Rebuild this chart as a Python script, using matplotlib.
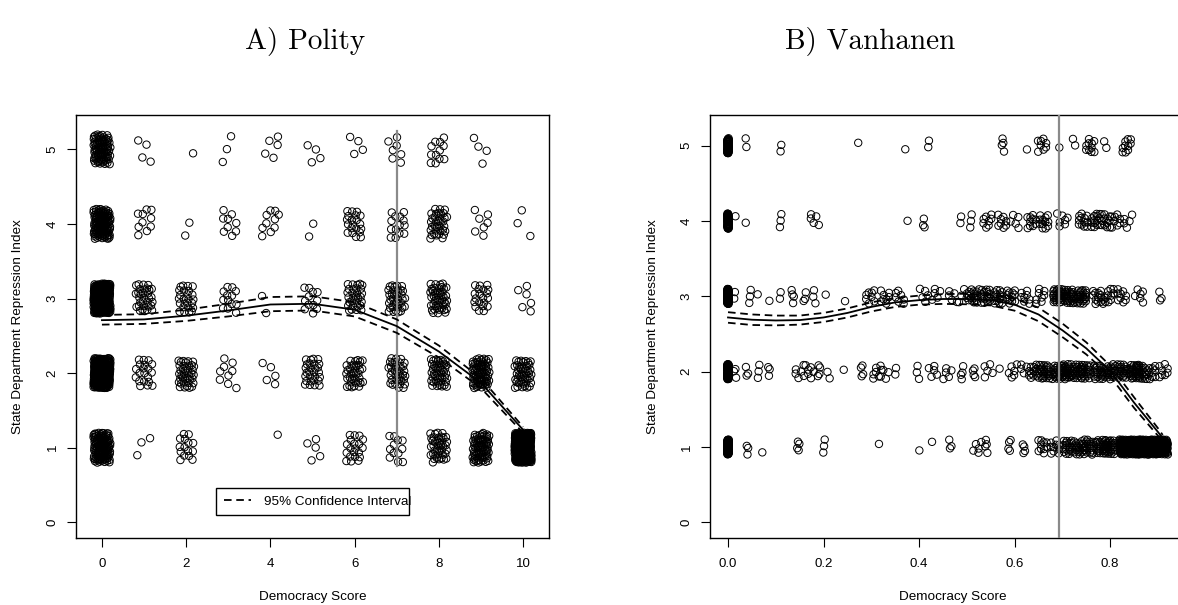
import numpy as np
import matplotlib
matplotlib.use("Agg")
import matplotlib.pyplot as plt
from matplotlib.lines import Line2D

# ---------------- Data ----------------
# Panel A (Polity): number of observations in each (democracy score, repression level) cell
polity_scores = [0, 1, 2, 3, 4, 5, 6, 7, 8, 9, 10]
repression_levels = [5, 4, 3, 2, 1]
polity_n_5 = [80, 4, 1, 3, 5, 4, 4, 7, 12, 4, 0]
polity_n_4 = [110, 10, 2, 9, 10, 2, 20, 14, 35, 7, 3]
polity_n_3 = [250, 32, 25, 13, 2, 12, 30, 35, 45, 20, 6]
polity_n_2 = [250, 20, 38, 9, 5, 28, 35, 35, 45, 70, 45]
polity_n_1 = [110, 3, 15, 0, 1, 5, 20, 12, 40, 70, 300]

# Panel A fitted curve and 95% CI
polity_fit = [2.71, 2.72, 2.77, 2.84, 2.92, 2.93, 2.85, 2.63, 2.29, 1.87, 1.24]
polity_upper = [2.78, 2.79, 2.85, 2.93, 3.02, 3.03, 2.95, 2.72, 2.37, 1.93, 1.28]
polity_lower = [2.65, 2.66, 2.70, 2.76, 2.83, 2.84, 2.76, 2.54, 2.21, 1.80, 1.20]
polity_cut = 7

# Panel B (Vanhanen): clusters of observations (score value, count) per repression level
van_x_5 = [0.0, 0.039, 0.109, 0.273, 0.373, 0.418, 0.575, 0.626, 0.655, 0.695, 0.725, 0.76, 0.79, 0.835]
van_n_5 = [60, 2, 2, 1, 1, 2, 4, 1, 8, 1, 2, 10, 2, 10]
van_x_4 = [0.0, 0.016, 0.039, 0.109, 0.18, 0.373, 0.41, 0.485, 0.51, 0.545, 0.575, 0.60, 0.635, 0.66,
           0.70, 0.745, 0.77, 0.79, 0.81, 0.835]
van_n_4 = [60, 1, 1, 3, 5, 1, 3, 2, 3, 8, 8, 5, 10, 12, 7, 12, 14, 12, 8, 5]
van_x_3 = [0.0, 0.015, 0.045, 0.064, 0.084, 0.109, 0.135, 0.16, 0.18, 0.203, 0.245, 0.30, 0.33, 0.36,
           0.41, 0.435, 0.47, 0.49, 0.515, 0.54, 0.565, 0.59, 0.625, 0.655, 0.69, 0.715, 0.74, 0.775,
           0.80, 0.825, 0.86, 0.905]
van_n_3 = [80, 2, 3, 1, 1, 2, 4, 3, 3, 1, 1, 8, 8, 7, 5, 5, 5, 5, 16, 16, 16, 12, 8, 8, 28, 26, 24,
           14, 10, 9, 6, 3]
van_x_2 = [0.0, 0.015, 0.04, 0.065, 0.085, 0.15, 0.17, 0.19, 0.21, 0.241, 0.28, 0.31, 0.33, 0.35,
           0.398, 0.43, 0.46, 0.49, 0.515, 0.545, 0.566, 0.595, 0.62, 0.645, 0.665, 0.69, 0.71, 0.73,
           0.75, 0.775, 0.80, 0.825, 0.85, 0.865, 0.885, 0.91]
van_n_2 = [80, 3, 3, 3, 3, 6, 6, 4, 2, 1, 4, 6, 5, 2, 3, 5, 5, 4, 4, 5, 1, 6, 6, 14, 22, 26, 26, 22,
           20, 20, 20, 20, 26, 18, 12, 8]
van_x_1 = [0.0, 0.04, 0.074, 0.147, 0.20, 0.318, 0.398, 0.426, 0.465, 0.52, 0.54, 0.59, 0.62, 0.66,
           0.685, 0.71, 0.735, 0.755, 0.78, 0.80, 0.83, 0.85, 0.87, 0.89, 0.91]
van_n_1 = [80, 3, 1, 4, 3, 1, 1, 1, 3, 5, 4, 4, 4, 10, 10, 18, 20, 20, 24, 28, 80, 90, 90, 90, 70]

# Panel B fitted curve and 95% CI
van_curve_x = [0.00, 0.05, 0.10, 0.15, 0.20, 0.25, 0.30, 0.35, 0.40, 0.45, 0.50, 0.55, 0.60, 0.65,
               0.70, 0.75, 0.80, 0.85, 0.90, 0.91]
van_fit = [2.72, 2.69, 2.68, 2.685, 2.72, 2.78, 2.86, 2.92, 2.95, 2.965, 2.965, 2.95, 2.89, 2.76,
           2.55, 2.31, 2.01, 1.59, 1.20, 1.12]
van_upper = [2.79, 2.76, 2.745, 2.745, 2.78, 2.84, 2.92, 2.98, 3.01, 3.03, 3.035, 3.02, 2.97, 2.85,
             2.64, 2.39, 2.08, 1.66, 1.25, 1.16]
van_lower = [2.65, 2.62, 2.615, 2.625, 2.66, 2.72, 2.80, 2.86, 2.89, 2.90, 2.895, 2.88, 2.81, 2.67,
             2.46, 2.23, 1.94, 1.52, 1.15, 1.08]
van_cut = 0.693

# ---------------- Style ----------------
plt.rcParams['font.family'] = ['Liberation Sans', 'DejaVu Sans']
W, H = 1178, 605
fig = plt.figure(figsize=(W / 100, H / 100), dpi=100)


def frac_seq(n, start):
    k = np.arange(start, start + n)
    u = (0.5 + 0.7548776662 * k) % 1.0
    v = (0.5 + 0.5698402910 * k) % 1.0
    return 2 * u - 1, 2 * v - 1


marker_kw = dict(s=28, facecolors='none', edgecolors='black', linewidths=0.7, zorder=2)
line_kw = dict(color='black', lw=1.3, zorder=4)
dash_kw = dict(color='black', lw=1.3, zorder=4, dashes=(4.2, 2.6))


def style_axes(ax, xlabel_y, ylabel_x):
    for s in ax.spines.values():
        s.set_linewidth(1.0)
    ax.tick_params(direction='out', length=6.5, width=0.8, labelsize=9.5)
    ax.tick_params(axis='x', pad=8)
    ax.tick_params(axis='y', pad=6)
    ax.set_yticks([0, 1, 2, 3, 4, 5])
    for lab in ax.get_yticklabels():
        lab.set_rotation(90)
        lab.set_va('center')
    ax.set_xlabel('Democracy Score', fontsize=9.7)
    ax.xaxis.set_label_coords(0.5, xlabel_y)
    ax.xaxis.label.set_va('center')
    ax.set_ylabel('State Department Repression Index', fontsize=9.7)
    ax.yaxis.set_label_coords(ylabel_x, 0.5)
    ax.yaxis.label.set_va('center')


# ---------------- Panel A ----------------
axA = fig.add_axes([76 / W, (H - 538) / H, 473 / W, 423 / H])
counter = 0
for lev, counts in zip(repression_levels, [polity_n_5, polity_n_4, polity_n_3, polity_n_2, polity_n_1]):
    for xs, n in zip(polity_scores, counts):
        if n == 0:
            continue
        du, dv = frac_seq(n, counter)
        counter += n
        axA.scatter(xs + 0.2 * du, lev + 0.2 * dv, **marker_kw)
axA.plot(polity_scores, polity_fit, **line_kw)
axA.plot(polity_scores, polity_upper, **dash_kw)
axA.plot(polity_scores, polity_lower, **dash_kw)
axA.plot([polity_cut, polity_cut], [0.75, 5.25], color='#8a8a8a', lw=1.6, zorder=3)
axA.set_xlim(-0.616, 10.616)
axA.set_ylim(-0.21, 5.46)
axA.set_xticks([0, 2, 4, 6, 8, 10])
style_axes(axA, -0.139, -0.123)
leg = axA.legend([Line2D([0], [0], **dash_kw)], ['95% Confidence Interval'],
                 loc='lower left', bbox_to_anchor=(0.297, 0.054, 0.407, 0.07), mode='expand',
                 borderaxespad=0, fancybox=False, edgecolor='black', framealpha=1,
                 handlelength=2.0, handletextpad=1.0, borderpad=0.55, fontsize=9.7)
leg.get_frame().set_linewidth(1.0)

# ---------------- Panel B ----------------
axB = fig.add_axes([710 / W, (H - 538) / H, 485 / W, 423 / H])
for lev, cx, cn in zip(repression_levels,
                       [van_x_5, van_x_4, van_x_3, van_x_2, van_x_1],
                       [van_n_5, van_n_4, van_n_3, van_n_2, van_n_1]):
    for xc, n in zip(cx, cn):
        du, dv = frac_seq(n, counter)
        counter += n
        hw = 0.0015 if xc == 0 else (0.003 if n <= 4 else 0.011)
        axB.scatter(xc + hw * du, lev + 0.1 * dv, **marker_kw)
axB.plot(van_curve_x, van_fit, **line_kw)
axB.plot(van_curve_x, van_upper, **dash_kw)
axB.plot(van_curve_x, van_lower, **dash_kw)
axB.axvline(van_cut, color='#8a8a8a', lw=1.6, zorder=3)
axB.set_xlim(-0.0377, 0.9776)
axB.set_ylim(-0.208, 5.408)
axB.set_xticks([0.0, 0.2, 0.4, 0.6, 0.8])
axB.set_xticklabels(['0.0', '0.2', '0.4', '0.6', '0.8'])
style_axes(axB, -0.139, -0.118)

# ---------------- Titles ----------------
fig.text(305 / W, 1 - 41 / H, 'A) Polity', family='cmr10', fontsize=21, ha='center', va='center')
fig.text(870 / W, 1 - 41 / H, 'B) Vanhanen', family='cmr10', fontsize=21, ha='center', va='center')

fig.savefig('out.png', dpi=100)
